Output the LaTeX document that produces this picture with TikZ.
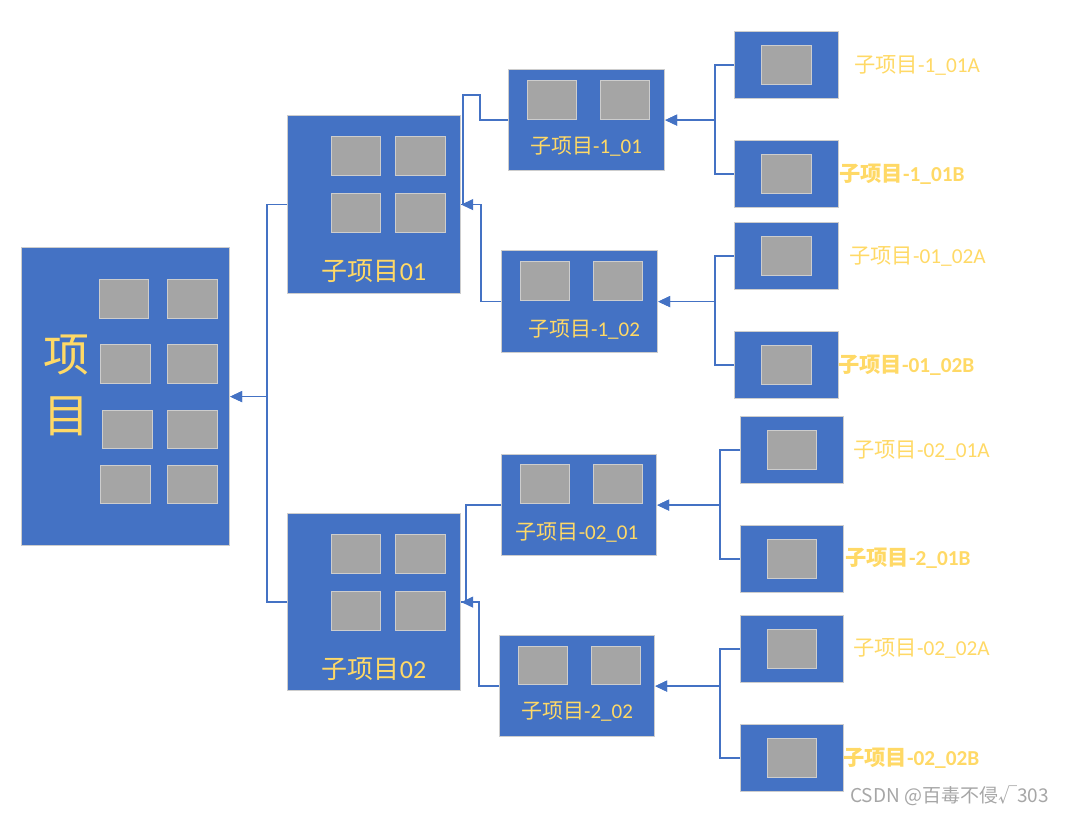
\documentclass[tikz,border=0pt]{standalone}
\usepackage{fontspec}
\setmainfont{Carlito}
\newfontfamily\cjk{Noto Sans CJK SC}
\usetikzlibrary{arrows.meta}
\definecolor{boxblue}{RGB}{68,114,196}
\definecolor{tilegray}{RGB}{165,165,165}
\definecolor{labelgold}{RGB}{255,217,102}
\definecolor{edgegray}{RGB}{205,205,205}

\begin{document}
\begin{tikzpicture}[x=1pt, y=-1pt,
    block/.style={draw=edgegray, line width=1.2pt, fill=boxblue, inner sep=0pt, anchor=north west},
    tile/.style={draw=edgegray, line width=0.9pt, fill=tilegray},
    boxtext/.style={text=labelgold, inner sep=0pt},
    tiptext/.style={text=labelgold, inner sep=0pt, anchor=west, font=\fontsize{21.3}{25}\selectfont},
    line/.style={draw=boxblue, line width=1.3pt},
    link/.style={line, -{Triangle[length=12pt, width=11pt]}}]
    \useasboundingbox (0,0) rectangle (1065,814);

    % main project
    \node[block, minimum width=208, minimum height=298] (proj) at (21,247) {};
    \draw[tile] (99,279) rectangle ++(49,39);  \draw[tile] (167,279) rectangle ++(50,39);
    \draw[tile] (100,344) rectangle ++(50,39); \draw[tile] (167,344) rectangle ++(50,39);
    \draw[tile] (102,410) rectangle ++(50,38); \draw[tile] (167,410) rectangle ++(50,38);
    \draw[tile] (100,465) rectangle ++(50,38); \draw[tile] (167,465) rectangle ++(50,38);
    \node[boxtext, align=center, font=\fontsize{46}{61}\selectfont\cjk] (projlabel) at (66,385) {项\\目};

    % level 1
    \node[block, minimum width=173, minimum height=178] (b1) at (287,115) {};
    \draw[tile] (331,136) rectangle ++(49,39); \draw[tile] (395,136) rectangle ++(50,39);
    \draw[tile] (331,193) rectangle ++(49,39); \draw[tile] (395,193) rectangle ++(50,39);
    \node[boxtext, font=\fontsize{26}{30}\selectfont] (b1label) at (374,271) {{\cjk 子项目}01};

    \node[block, minimum width=173, minimum height=177] (b2) at (287,513) {};
    \draw[tile] (331,534) rectangle ++(49,39); \draw[tile] (395,534) rectangle ++(50,39);
    \draw[tile] (331,591) rectangle ++(49,39); \draw[tile] (395,591) rectangle ++(50,39);
    \node[boxtext, font=\fontsize{26}{30}\selectfont] (b2label) at (374,669) {{\cjk 子项目}02};

    % level 2
    \node[block, minimum width=156, minimum height=101] (c1) at (508,69) {};
    \draw[tile] (527,80) rectangle ++(49,39); \draw[tile] (600,80) rectangle ++(49,39);
    \node[boxtext, font=\fontsize{21}{25}\selectfont] (c1label) at (586,147) {{\cjk 子项目}-1\_01};

    \node[block, minimum width=156, minimum height=102] (c2) at (501,250) {};
    \draw[tile] (520,261) rectangle ++(49,39); \draw[tile] (593,261) rectangle ++(49,39);
    \node[boxtext, font=\fontsize{21}{25}\selectfont] (c2label) at (584,330) {{\cjk 子项目}-1\_02};

    \node[block, minimum width=155, minimum height=101] (c3) at (501,454) {};
    \draw[tile] (520,464) rectangle ++(49,39); \draw[tile] (593,464) rectangle ++(49,39);
    \node[boxtext, font=\fontsize{21}{25}\selectfont] (c3label) at (577,533) {{\cjk 子项目}-02\_01};

    \node[block, minimum width=155, minimum height=101] (c4) at (499,635) {};
    \draw[tile] (518,646) rectangle ++(49,38); \draw[tile] (591,646) rectangle ++(49,38);
    \node[boxtext, font=\fontsize{21}{25}\selectfont] (c4label) at (577,712) {{\cjk 子项目}-2\_02};

    % level 3
    \node[block, minimum width=104, minimum height=67] (d1) at (734,31) {};
    \draw[tile] (761,45) rectangle ++(50,39);
    \node[block, minimum width=104, minimum height=67] (d2) at (734,140) {};
    \draw[tile] (761,154) rectangle ++(50,39);
    \node[block, minimum width=104, minimum height=67] (d3) at (734,222) {};
    \draw[tile] (761,236) rectangle ++(50,39);
    \node[block, minimum width=104, minimum height=67] (d4) at (734,331) {};
    \draw[tile] (761,345) rectangle ++(50,39);
    \node[block, minimum width=103, minimum height=67] (d5) at (740,416) {};
    \draw[tile] (767,430) rectangle ++(49,39);
    \node[block, minimum width=103, minimum height=67] (d6) at (740,525) {};
    \draw[tile] (767,539) rectangle ++(49,39);
    \node[block, minimum width=103, minimum height=67] (d7) at (740,615) {};
    \draw[tile] (767,629) rectangle ++(49,39);
    \node[block, minimum width=103, minimum height=67] (d8) at (740,724) {};
    \draw[tile] (767,738) rectangle ++(49,39);

    \node[tiptext] (d1label) at (854,65) {{\cjk 子项目}-1\_01A};
    \node[tiptext, font=\fontsize{21.3}{25}\selectfont\bfseries] (d2label) at (839,174) {{\cjk 子项目}-1\_01B};
    \node[tiptext] (d3label) at (849,256) {{\cjk 子项目}-01\_02A};
    \node[tiptext, font=\fontsize{21.3}{25}\selectfont\bfseries] (d4label) at (838,365) {{\cjk 子项目}-01\_02B};
    \node[tiptext] (d5label) at (853,450) {{\cjk 子项目}-02\_01A};
    \node[tiptext, font=\fontsize{21.3}{25}\selectfont\bfseries] (d6label) at (845,558) {{\cjk 子项目}-2\_01B};
    \node[tiptext] (d7label) at (853,648) {{\cjk 子项目}-02\_02A};
    \node[tiptext, font=\fontsize{21.3}{25}\selectfont\bfseries] (d8label) at (843,758) {{\cjk 子项目}-02\_02B};

    % connectors
    \draw[link] (b1.west) -- ++(-20,0) |- (proj.east);
    \draw[link] (b2.west) -- ++(-20,0) |- (proj.east);

    \draw[line] (c1.west) -- ++(-28,0) -- ++(0,-25) -- ++(-17,0) |- (b1.east);
    \draw[link] (c2.west) -- ++(-20,0) |- (b1.east);
    \draw[line] (c3.west) -- ++(-35,0) |- (b2.east);
    \draw[link] (c4.west) -- ++(-20,0) |- (b2.east);

    \draw[link] (d1.west) -- ++(-19,0) |- (c1.east);
    \draw[link] (d2.west) -- ++(-19,0) |- (c1.east);
    \draw[link] (d3.west) -- ++(-19,0) |- (c2.east);
    \draw[link] (d4.west) -- ++(-19,0) |- (c2.east);
    \draw[link] (d5.west) -- ++(-20,0) |- (c3.east);
    \draw[link] (d6.west) -- ++(-20,0) |- (c3.east);
    \draw[link] (d7.west) -- ++(-20,0) |- (c4.east);
    \draw[link] (d8.west) -- ++(-20,0) |- (c4.east);

    \node[anchor=west, inner sep=0pt, text=black!35, font=\fontsize{19}{23}\selectfont\cjk] (mark) at (850,796) {CSDN @百毒不侵√303};
\end{tikzpicture}
\end{document}
